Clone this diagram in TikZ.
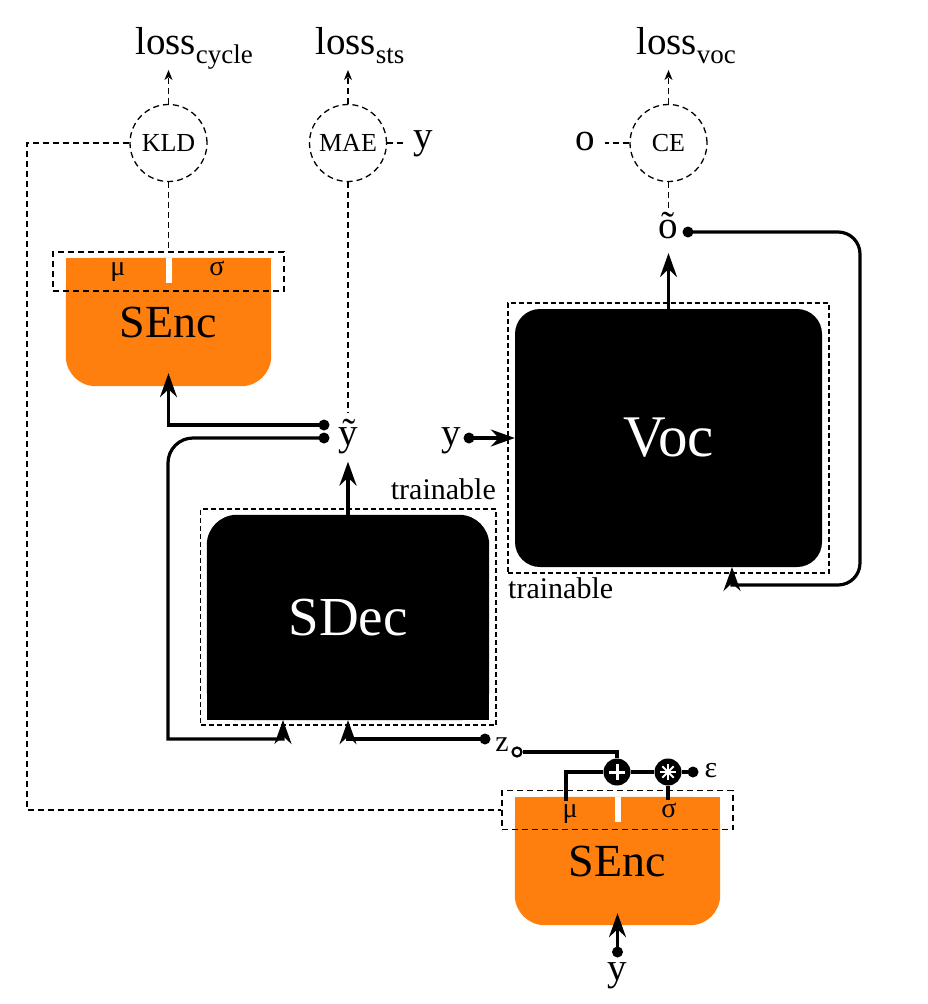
\documentclass[tikz,border=0pt]{standalone}
\usepackage{fontspec}
\setmainfont{Liberation Serif}
\usetikzlibrary{arrows.meta,backgrounds,calc}
\definecolor{encorange}{HTML}{FF7F0E}
\newcommand{\fsz}[1]{\fontsize{#1}{#1}\selectfont}
\begin{document}
\begin{tikzpicture}[x=1pt,y=-1pt,
  solidline/.style={line width=3.2pt},
  solidarrow/.style={solidline,-{Stealth[length=24pt,width=17pt,inset=8pt]}},
  dashline/.style={line width=1.3pt,dash pattern=on 6pt off 4pt},
  dasharrow/.style={dashline,-{Stealth[length=10pt,width=8pt,inset=3pt]}},
  lossop/.style={circle,draw,dashline,minimum size=77pt,inner sep=0pt,font=\fsz{26}},
  blackdot/.style={circle,fill=black,minimum size=11pt,inner sep=0pt},
  opendot/.style={circle,draw,fill=white,line width=2.2pt,minimum size=9pt,inner sep=0pt},
  txt/.style={inner sep=0pt,font=\fsz{39}},
  smalltxt/.style={inner sep=0pt,font=\fsz{28}},
  trtxt/.style={inner sep=0pt,font=\fsz{30}},
  encbox/.style={minimum width=205pt,minimum height=128pt,inner sep=0pt,font=\fsz{46}},
  msbox/.style={draw,dashline,minimum width=231pt,minimum height=39pt,inner sep=0pt},
  trbox/.style={draw,line width=1.3pt,dash pattern=on 5pt off 3pt,inner sep=0pt},
  opcircle/.style={circle,fill=black,minimum size=27pt,inner sep=0pt},
  bigbox/.style={inner sep=0pt,text=white,font=\fsz{59}},
]
\useasboundingbox (0,0) rectangle (927,1004);

% loss operators
\node[lossop] (kld) at (168.5,143) {KLD};
\node[lossop] (mae) at (348,143) {MAE};
\node[lossop] (ce) at (668.5,143) {CE};
\node[txt,anchor=base west] (lcyc) at (135,54) {loss\raisebox{-9pt}{\fsz{27}cycle}};
\node[txt,anchor=base west] (lsts) at (315,54) {loss\raisebox{-9pt}{\fsz{27}sts}};
\node[txt,anchor=base west] (lvoc) at (636,54) {loss\raisebox{-9pt}{\fsz{27}voc}};
\coordinate (lcycin) at (168.5,70);
\coordinate (lstsin) at (348,70);
\coordinate (lvocin) at (668.5,70);
\node[txt,anchor=base west] (ymae) at (413,148) {y};
\node[txt,anchor=base] (oce) at (585,150) {o};

% encoders
\node[encbox] (enc1) at (168.5,322) {SEnc};
\node[msbox] (ms1) at (168.5,271.5) {};
\node[smalltxt,anchor=base] (mu1) at (118,275) {μ};
\node[smalltxt,anchor=base] (sig1) at (217,275) {σ};

\node[encbox] (enc2) at (617.5,861) {SEnc};
\node[msbox] (ms2) at (617.5,810) {};
\node[smalltxt,anchor=base] (mu2) at (570,817) {μ};
\node[smalltxt,anchor=base] (sig2) at (669,817) {σ};

% decoder and vocoder
\node[bigbox,font=\fsz{55},minimum width=282pt,minimum height=205pt] (sdec) at (348,617.5) {SDec};
\node[trbox,minimum width=295.5pt,minimum height=216pt] (tr1) at (348.25,617) {};
\node[trtxt,anchor=base east] (trlab1) at (496,499) {trainable};

\node[bigbox,fill=black,rounded corners=25pt,minimum width=307pt,minimum height=258pt] (voc) at (668.5,438) {Voc};
\node[trbox,minimum width=321pt,minimum height=270pt] (tr2) at (668.5,438) {};
\node[trtxt,anchor=base west] (trlab2) at (508,598) {trainable};

\begin{scope}[on background layer]
  \fill[encorange,rounded corners=30pt] (enc1.north west) rectangle (enc1.south east);
  \fill[encorange] (enc1.north west) rectangle (enc1.east);
  \fill[white] ($(enc1.north)+(-3,0)$) rectangle ($(enc1.north)+(3,25)$);
  \fill[encorange,rounded corners=30pt] (enc2.north west) rectangle (enc2.south east);
  \fill[encorange] (enc2.north west) rectangle (enc2.east);
  \fill[white] ($(enc2.north)+(-3,0)$) rectangle ($(enc2.north)+(3,25)$);
  \fill[black,rounded corners=30pt] (sdec.north west) rectangle (sdec.south east);
  \fill[black] (sdec.west) rectangle (sdec.south east);
\end{scope}

% labels
\node[txt,anchor=base] (ytil) at (348,445) {ỹ};
\node[txt,anchor=base] (yin) at (451,445) {y};
\node[txt,anchor=base] (otil) at (668.5,238.5) {õ};
\node[txt,anchor=base] (ybot) at (617.5,980) {y};
\node[trtxt,anchor=base] (zlab) at (502,751) {z};
\node[trtxt,anchor=base] (eps) at (711,777) {ε};

% dots and operators
\node[blackdot] (ydotup) at (324,425) {};
\node[blackdot] (ydotlow) at (324,438) {};
\node[blackdot] (yindot) at (469,438) {};
\node[blackdot] (odot) at (688,232) {};
\node[blackdot] (zdot) at (485,739) {};
\node[opendot] (zopen) at (517,752) {};
\node[blackdot] (epsdot) at (693,772) {};
\node[blackdot] (ybotdot) at (617.5,952) {};
\node[opcircle] (plus) at (617,772) {};
\node[opcircle] (times) at (668,772) {};
\draw[white,line width=3pt] ($(plus)+(-8,0)$) -- ($(plus)+(8,0)$) ($(plus)+(0,-8)$) -- ($(plus)+(0,8)$);
\foreach \a in {0,45,90,135} \draw[white,line width=2pt] ($(times)+(\a:8)$) -- ($(times)+(\a+180:8)$);

\coordinate (enc1in) at ($(enc1.south)+(0,-13)$);
\coordinate (enc2in) at ($(enc2.south)+(0,-12)$);
\coordinate (sdecin1) at (283,720);
\coordinate (vocin) at (732,567);
\coordinate (mu2top) at (566,801);
\coordinate (sig2top) at (668,800);

% dashed connectors
\draw[dasharrow] (kld.north) -- (lcycin);
\draw[dasharrow] (mae.north) -- (lstsin);
\draw[dasharrow] (ce.north) -- (lvocin);
\draw[dashline] (kld.south) -- (ms1.north);
\draw[dashline] (kld.west) -- (27,143) |- (ms2.west);
\draw[dashline,shorten >=6pt] (mae.east) -- (mae.east -| ymae.west);
\draw[dashline,shorten >=10pt] (ce.west) -- (ce.west -| oce.east);
\draw[dashline,shorten >=6pt] (mae.south) -- (ytil.north);
\draw[dashline,shorten >=2pt] (ce.south) -- (otil.north);

% solid connectors
\draw[solidarrow,shorten >=8pt] (sdec.north) -- (ytil.south);
\draw[solidarrow,shorten >=14pt] (voc.north) -- (otil.south);
\draw[solidarrow] (yindot.center) -- (voc.west);
\draw[solidarrow] (ydotup.center) -| (enc1in);
\draw[solidarrow] (ydotlow.center) -- (193,438) .. controls (179.2,438) and (168,449.2) .. (168,463) -- (168,739) -| (sdecin1);
\draw[solidarrow] (zdot.center) -| (sdec.south);
\draw[solidarrow] (odot.center) -- (838,232) .. controls (850.2,232) and (860,241.8) .. (860,254) -- (860,563) .. controls (860,575.2) and (850.2,585) .. (838,585) -| (vocin);
\draw[solidarrow] (ybotdot.center) -- (enc2in);

% reparameterisation
\draw[solidline] (zopen.east) -| (plus.north);
\draw[solidline] (mu2top) |- (plus.west);
\draw[solidline] (plus.east) -- (times.west);
\draw[solidline] (times.east) -- (epsdot.center);
\draw[solidline] (sig2top) -- (times.south);
\end{tikzpicture}
\end{document}
